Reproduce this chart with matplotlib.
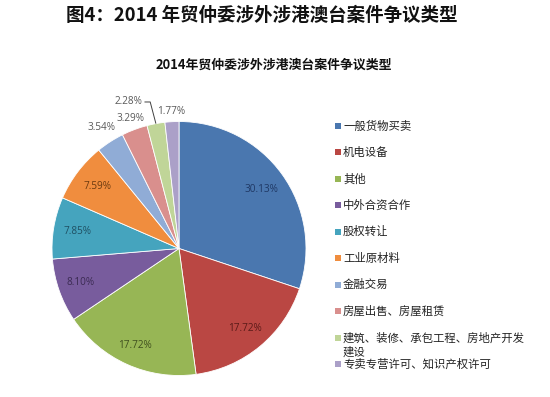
import matplotlib
matplotlib.use("Agg")
import matplotlib.pyplot as plt
from matplotlib.patches import Rectangle
import numpy as np

plt.rcParams['font.family'] = ['Noto Sans CJK SC', 'DejaVu Sans']

# ---- data ----
categories = ['一般货物买卖', '机电设备', '其他', '中外合资合作', '股权转让', '工业原材料',
              '金融交易', '房屋出售、房屋租赁', '建筑、装修、承包工程、房地产开发\n建设',
              '专卖专营许可、知识产权许可']
values = [30.13, 17.72, 17.72, 8.10, 7.85, 7.59, 3.54, 3.29, 2.28, 1.77]
value_labels = ['30.13%', '17.72%', '17.72%', '8.10%', '7.85%', '7.59%',
                '3.54%', '3.29%', '2.28%', '1.77%']
main_title = '图4：2014 年贸仲委涉外涉港澳台案件争议类型'
chart_title = '2014年贸仲委涉外涉港澳台案件争议类型'

# ---- styles ----
colors = ['#4A77AF', '#BA4743', '#97B655', '#785C9D', '#45A4BE', '#F08D3E',
          '#90ACD6', '#D98F8D', '#C0D598', '#ABA0C8']
label_colors = ['#1F3864', '#5A1A18', '#3F4F1F', '#3B2B52', '#1F5063', '#6B3A10',
                '#595959', '#595959', '#595959', '#595959']
label_dist = [0.80, 0.82, 0.84, 0.82, 0.81, 0.81, 1.13, 1.09, 1.22, 1.08]
label_angle_shift = [0, 0, 0, 0, 0, 0, 0, 0, 8.5, 0]

W, H = 550, 397
fig = plt.figure(figsize=(W / 100, H / 100), dpi=100)
fig.patch.set_facecolor('white')

cx, cy, r = 179, 248.5, 127
ax = fig.add_axes([(cx - r) / W, (H - cy - r) / H, 2 * r / W, 2 * r / H])
wedges, _ = ax.pie(values, colors=colors, startangle=90, counterclock=False,
                   wedgeprops=dict(edgecolor='white', linewidth=0.6))
ax.set_xlim(-1, 1)
ax.set_ylim(-1, 1)
ax.set_aspect('auto')
ax.axis('off')

for i, w in enumerate(wedges):
    mid = np.deg2rad((w.theta1 + w.theta2) / 2)
    ang = mid + np.deg2rad(label_angle_shift[i])
    x, y = label_dist[i] * np.cos(ang), label_dist[i] * np.sin(ang)
    ax.text(x, y, value_labels[i], ha='center', va='center', fontsize=7.2,
            color=label_colors[i], family=['Open Sans', 'DejaVu Sans'],
            clip_on=False)
    if label_angle_shift[i] != 0:
        ex, ey = np.cos(mid), np.sin(mid)
        x0 = x + 0.125
        ax.plot([x0, x0 + 0.045, ex], [y, y, ey], color='#404040', lw=0.7,
                clip_on=False, solid_capstyle='butt')

# titles
fig.text(261.5 / W, 1 - 15 / H, main_title, ha='center', va='center',
         fontsize=13.3, fontweight='bold', color='#111111')
fig.text(273.5 / W, 1 - 65 / H, chart_title, ha='center', va='center',
         fontsize=9.3, fontweight='bold', color='#111111')

# legend
row0, pitch = 126, 26.45
for i, (name, col) in enumerate(zip(categories, colors)):
    yc = row0 + i * pitch
    fig.patches.append(Rectangle((335 / W, 1 - (yc + 3) / H), 6 / W, 6 / H,
                                 transform=fig.transFigure, facecolor=col,
                                 edgecolor='none'))
    for j, line in enumerate(name.split('\n')):
        fig.text(343 / W, 1 - (yc + j * 14.5) / H, line, ha='left', va='center',
                 fontsize=8.2, color='#222222')

fig.savefig('out.png', dpi=100, facecolor='white')
